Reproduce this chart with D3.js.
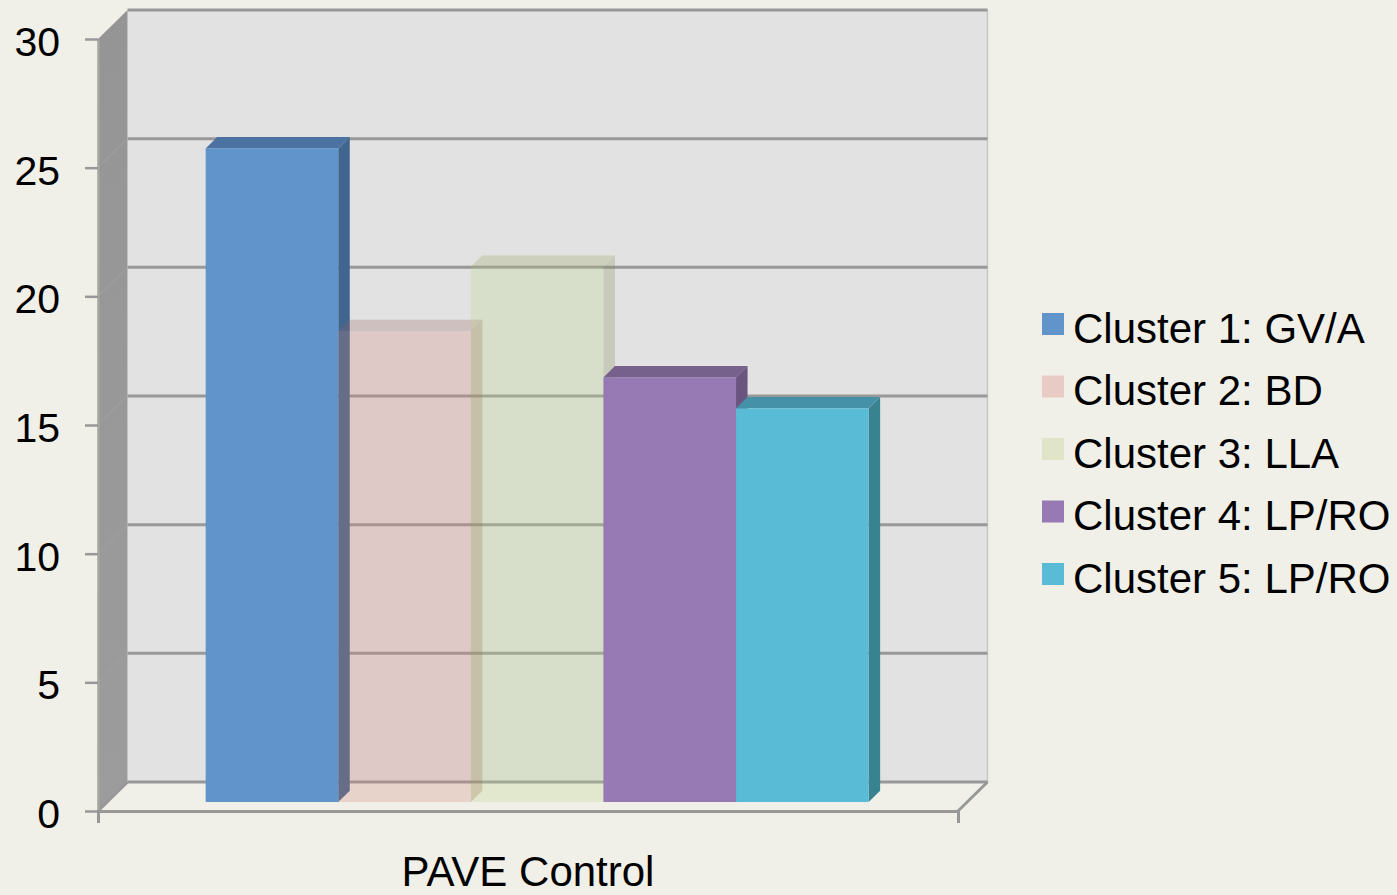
<!DOCTYPE html>
<html>
<head>
<meta charset="utf-8">
<script src="https://cdnjs.cloudflare.com/ajax/libs/d3/7.8.5/d3.min.js"></script>
<style>
  html, body { margin: 0; padding: 0; background: #f0f0e8; }
  svg { display: block; }
  text { font-family: "Liberation Sans", Arial, sans-serif; fill: #000; }
</style>
</head>
<body>
<div id="chart"></div>
<script>
const groups = ["PAVE Control"];
const clusters = ["Cluster 1: GV/A", "Cluster 2: BD", "Cluster 3: LLA", "Cluster 4: LP/RO", "Cluster 5: LP/RO"];
const values = [25.4, 18.3, 20.8, 16.5, 15.3];
const yTicks = [0, 5, 10, 15, 20, 25, 30];

const frontColors = ["#6094ca", "#d3857a", "#b9d385", "#977ab3", "#59bbd5"];
const topColors = ["#4b72a0", "#9b6464", "#909f55", "#76608c", "#4491a8"];
const sideColors = ["#40658f", "#944a3b", "#828955", "#6a5480", "#39828f"];
const barOpacity = [1, 0.27, 0.27, 1, 1];
const legendColors = ["#6094ca", "#e9cbc5", "#e0e4c8", "#977ab3", "#59bbd5"];

const width = 1397, height = 895;
const depthX = 29.5, depthY = 29;
const barFrontZ = 0.31, barBackZ = 0.7;

const y = d3.scaleLinear().domain([0, 30]).range([811, 39]);
const xGroup = d3.scaleBand().domain(groups).range([98, 958]);
const x = d3.scaleBand().domain(clusters).range([98, 958]).paddingInner(0).paddingOuter(0.743);

// oblique projection, z = 0 is the front of the box and z = 1 the back wall
const px = (xv, z) => xv + z * depthX;
const py = (v, z) => y(v) - z * depthY;
const poly = pts => pts.map(p => p.join(",")).join(" ");

const svg = d3.select("#chart").append("svg")
  .attr("width", width)
  .attr("height", height);

const x0 = x.range()[0], x1 = x.range()[1];

// back wall
svg.append("polygon")
  .attr("points", poly([[px(x0, 1), py(30, 1)], [px(x1, 1), py(30, 1)], [px(x1, 1), py(0, 1)], [px(x0, 1), py(0, 1)]]))
  .attr("fill", "#e2e2e2");
svg.append("line")
  .attr("x1", px(x1, 1)).attr("x2", px(x1, 1))
  .attr("y1", py(30, 1)).attr("y2", py(0, 1))
  .attr("stroke", "#c8c8c6").attr("stroke-width", 1.5);

// left wall
const wallGrad = svg.append("defs").append("linearGradient")
  .attr("id", "wall").attr("x1", 0).attr("x2", 0).attr("y1", 0).attr("y2", 1);
wallGrad.append("stop").attr("offset", 0).attr("stop-color", "#959595");
wallGrad.append("stop").attr("offset", 1).attr("stop-color", "#9c9c9c");
svg.append("polygon")
  .attr("points", poly([[px(x0, 0), py(30, 0)], [px(x0, 1), py(30, 1)], [px(x0, 1), py(0, 1)], [px(x0, 0), py(0, 0)]]))
  .attr("fill", "url(#wall)");

// grid lines on the back wall and the faint ones across the left wall
svg.append("g").selectAll("line")
  .data(yTicks)
  .join("line")
  .attr("x1", px(x0, 1)).attr("x2", px(x1, 1))
  .attr("y1", d => py(d, 1)).attr("y2", d => py(d, 1))
  .attr("stroke", "#989898").attr("stroke-width", 3);
svg.append("g").selectAll("line")
  .data(yTicks.slice(1, -1))
  .join("line")
  .attr("x1", px(x0, 0)).attr("x2", px(x0, 1))
  .attr("y1", d => py(d, 0)).attr("y2", d => py(d, 1))
  .attr("stroke", "#a2a2a2").attr("stroke-width", 1);

// floor edges
svg.append("g").selectAll("line")
  .data([x0, x1])
  .join("line")
  .attr("x1", d => px(d, 0)).attr("x2", d => px(d, 1))
  .attr("y1", py(0, 0)).attr("y2", py(0, 1))
  .attr("stroke", "#989898").attr("stroke-width", 3);

// bars, left to right so the see-through ones pick up what is behind them
const bars = svg.append("g").selectAll("g")
  .data(clusters.map((c, i) => ({ c, i, v: values[i] })))
  .join("g");

const corners = d => {
  const l = x(d.c), r = l + x.bandwidth();
  return { l, r };
};

bars.append("polygon")
  .attr("points", d => {
    const { r } = corners(d);
    return poly([
      [px(r, barFrontZ), py(0, barFrontZ)], [px(r, barBackZ), py(0, barBackZ)],
      [px(r, barBackZ), py(d.v, barBackZ)], [px(r, barFrontZ), py(d.v, barFrontZ)]
    ]);
  })
  .attr("fill", d => sideColors[d.i])
  .attr("fill-opacity", d => barOpacity[d.i]);

bars.append("polygon")
  .attr("points", d => {
    const { l, r } = corners(d);
    return poly([
      [px(l, barFrontZ), py(d.v, barFrontZ)], [px(r, barFrontZ), py(d.v, barFrontZ)],
      [px(r, barBackZ), py(d.v, barBackZ)], [px(l, barBackZ), py(d.v, barBackZ)]
    ]);
  })
  .attr("fill", d => topColors[d.i])
  .attr("fill-opacity", d => barOpacity[d.i]);

bars.append("rect")
  .attr("x", d => px(x(d.c), barFrontZ))
  .attr("y", d => py(d.v, barFrontZ))
  .attr("width", x.bandwidth())
  .attr("height", d => py(0, barFrontZ) - py(d.v, barFrontZ))
  .attr("fill", d => frontColors[d.i])
  .attr("fill-opacity", d => barOpacity[d.i]);

// axes
const yAxis = svg.append("g")
  .attr("transform", "translate(98,0)")
  .call(d3.axisLeft(y).tickValues(yTicks).tickSize(13).tickSizeOuter(0).tickPadding(25));
const xAxis = svg.append("g")
  .attr("transform", "translate(0,811)")
  .call(d3.axisBottom(xGroup).tickSizeInner(0).tickSizeOuter(12).tickPadding(45));

yAxis.selectAll(".domain").attr("stroke", "#a6a69e").attr("stroke-width", 2.5);
yAxis.selectAll(".tick line").attr("stroke", "#989898").attr("stroke-width", 2.5);
xAxis.selectAll(".domain").attr("stroke", "#989898").attr("stroke-width", 3);
yAxis.selectAll("text").attr("font-size", 41).attr("dy", "0.4em");
xAxis.selectAll("text").attr("font-size", 42).attr("dy", "0.71em");
svg.selectAll(".tick text").style("font-family", '"Liberation Sans", Arial, sans-serif');

// legend
const legend = svg.append("g").selectAll("g")
  .data(clusters)
  .join("g")
  .attr("transform", (d, i) => `translate(1042,${313 + i * 62.5})`);
legend.append("rect")
  .attr("width", 22).attr("height", 22)
  .attr("fill", (d, i) => legendColors[i]);
legend.append("text")
  .attr("x", 31).attr("y", 29.5)
  .attr("font-size", 42)
  .text(d => d);
</script>
</body>
</html>
